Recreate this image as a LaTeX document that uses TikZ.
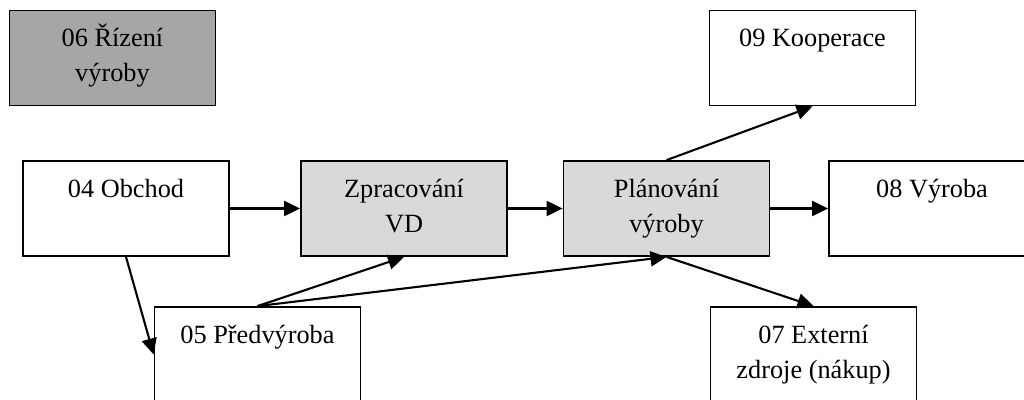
\documentclass[tikz,border=0pt]{standalone}
\usepackage{fontspec}
\setmainfont{Liberation Serif}
\usetikzlibrary{arrows.meta}
\definecolor{darkfill}{HTML}{A6A6A6}
\definecolor{lightfill}{HTML}{D9D9D9}
\tikzset{
  box/.style={draw=black, line width=1.8pt, rectangle, minimum width=206pt,
    minimum height=95pt, inner sep=0pt},
  % anchored at the baseline of the last line
  lbl/.style={anchor=base, inner sep=0pt, align=center,
    font=\fontsize{26.3}{35}\selectfont},
  flow/.style={line width=2.1pt, -{Triangle[length=16pt,width=15pt]}},
}
\begin{document}
\begin{tikzpicture}[x=1pt, y=-1pt]
  \useasboundingbox (0,0) rectangle (1024,399);
  \clip (0,0) rectangle (1024,399);
  \fill[white] (0,0) rectangle (1024,399);

  % boxes (centres)
  \node[box, fill=darkfill]  (rizeni)  at (112.5,58)  {};
  \node[box]                 (obchod)  at (126,208.5) {};
  \node[box, fill=lightfill] (zprac)   at (404,208.5) {};
  \node[box, fill=lightfill] (plan)    at (666.5,208.5) {};
  \node[box]                 (vyroba)  at (932,208.5) {};
  \node[box]                 (koop)    at (812.5,58)  {};
  \node[box]                 (predv)   at (257.5,354.5) {};
  \node[box]                 (extern)  at (813.5,354.5) {};

  % texts: first baseline 37 below the top edge, lines 35 apart
  \node[lbl] (trizeni) at ([yshift=-72pt]rizeni.north) {06 Řízení\\výroby};
  \node[lbl] (tobchod) at ([yshift=-37pt]obchod.north) {04 Obchod};
  \node[lbl] (tzprac)  at ([yshift=-72pt]zprac.north)  {Zpracování\\VD};
  \node[lbl] (tplan)   at ([yshift=-72pt]plan.north)   {Plánování\\výroby};
  \node[lbl] (tvyroba) at ([yshift=-37pt]vyroba.north) {08 Výroba};
  \node[lbl] (tkoop)   at ([yshift=-37pt]koop.north)   {09 Kooperace};
  \node[lbl] (tpredv)  at ([yshift=-37pt]predv.north)  {05 Předvýroba};
  \node[lbl] (textern) at ([yshift=-72pt]extern.north) {07 Externí\\zdroje (nákup)};

  % connectors
  \draw[flow] (obchod.east) -- (zprac.west);
  \draw[flow] (zprac.east) -- (plan.west);
  \draw[flow] (plan.east) -- (vyroba.west);
  \draw[flow] (obchod.south) -- (predv.west);
  \draw[flow] (predv.north) -- (zprac.south);
  \draw[flow] (predv.north) -- (plan.south);
  \draw[flow] (plan.south) -- (extern.north);
  \draw[flow] (plan.north) -- (koop.south);
\end{tikzpicture}
\end{document}
